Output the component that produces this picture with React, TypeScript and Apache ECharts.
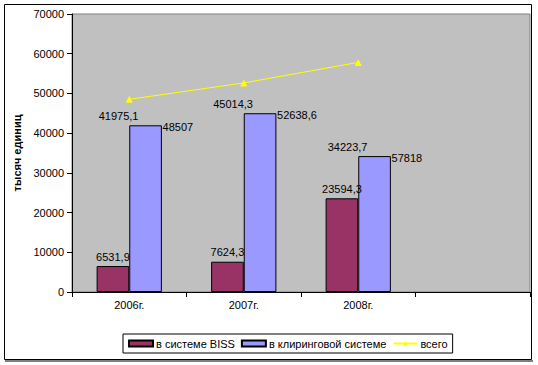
import React, { useEffect, useRef } from "react";
import * as echarts from "echarts";

const categories = ["2006г.", "2007г.", "2008г.", ""];
const bissValues = [6531.9, 7624.3, 23594.3, null];
const clearingValues = [41975.1, 45014.3, 34223.7, null];
const totalValues = [48507, 52638.6, 57818, null];
const seriesNames = ["в системе BISS", "в клиринговой системе", "всего"];
const yAxisName = "тысяч единиц";

const fmt = (v: any) => String(v).replace(".", ",");
const FONT = "'Liberation Sans', Arial, sans-serif";

export default function App() {
  const ref = useRef<HTMLDivElement>(null);
  useEffect(() => {
    document.body.style.margin = "0";
    const chart = echarts.init(ref.current!, null, { renderer: "svg" });
    chart.setOption({
      animation: false,
      textStyle: { fontFamily: FONT },
      graphic: [
        {
          type: "rect",
          shape: { x: 4.5, y: 4.5, width: 527, height: 355 },
          style: { fill: "none", stroke: "#000", lineWidth: 1 },
          z: 0,
        },
        {
          type: "line",
          shape: { x1: 5, y1: 361, x2: 533, y2: 361 },
          style: { stroke: "#000", lineWidth: 1 },
        },
      ],
      grid: {
        left: 72,
        top: 14,
        right: 8,
        bottom: 73,
        show: true,
        backgroundColor: "#C0C0C0",
        borderColor: "#808080",
        borderWidth: 1,
      },
      legend: {
        left: 123,
        top: 334,
        orient: "horizontal",
        borderColor: "#000",
        borderWidth: 1,
        padding: [4, 5, 4, 5],
        itemGap: 6,
        itemWidth: 24,
        itemHeight: 6,
        textStyle: { fontFamily: FONT, fontSize: 11, color: "#000", padding: [0, 0, 0, -2] },
        data: [
          { name: seriesNames[0], icon: "rect" },
          { name: seriesNames[1], icon: "rect" },
          { name: seriesNames[2] },
        ],
      },
      xAxis: {
        type: "category",
        data: categories,
        boundaryGap: true,
        axisLine: { lineStyle: { color: "#000", width: 1 } },
        axisTick: { show: true, length: 5, alignWithLabel: false, lineStyle: { color: "#000" } },
        axisLabel: { color: "#000", fontSize: 11, fontFamily: FONT, margin: 7 },
        splitLine: { show: false },
      },
      yAxis: {
        type: "value",
        min: 0,
        max: 70000,
        interval: 10000,
        name: yAxisName,
        nameLocation: "middle",
        nameGap: 48,
        nameTextStyle: { fontWeight: "bold", fontSize: 11, color: "#000", fontFamily: FONT },
        axisLine: { show: true, lineStyle: { color: "#000", width: 1 } },
        axisTick: { show: true, length: 5, lineStyle: { color: "#000" } },
        axisLabel: {
          color: "#000",
          fontSize: 11,
          fontFamily: FONT,
          margin: 8,
          formatter: (v: number) => String(v),
        },
        splitLine: { show: false },
      },
      series: [
        {
          name: seriesNames[0],
          type: "bar",
          data: bissValues,
          barGap: "0%",
          barCategoryGap: "43%",
          itemStyle: { color: "#993366", borderColor: "#000", borderWidth: 1 },
          label: {
            show: true,
            position: "top",
            distance: 4,
            color: "#000",
            fontSize: 11,
            fontFamily: FONT,
            formatter: (p: any) => fmt(p.value),
          },
        },
        {
          name: seriesNames[1],
          type: "bar",
          data: clearingValues,
          barGap: "0%",
          barCategoryGap: "43%",
          itemStyle: { color: "#9999FF", borderColor: "#000", borderWidth: 1 },
          label: {
            show: true,
            position: "top",
            distance: 4,
            offset: [-27, 0],
            color: "#000",
            fontSize: 11,
            fontFamily: FONT,
            formatter: (p: any) => fmt(p.value),
          },
          markPoint: {
            symbol: "circle",
            symbolSize: 0,
            itemStyle: { color: "transparent" },
            label: {
              show: true,
              position: "right",
              distance: 0,
              offset: [17, 2],
              color: "#000",
              fontSize: 11,
              fontFamily: FONT,
              formatter: (p: any) => fmt(p.value),
            },
            data: totalValues
              .map((t, i) => (t == null ? null : { coord: [i, clearingValues[i]], value: t }))
              .filter((d) => d != null),
          },
        },
        {
          name: seriesNames[2],
          type: "line",
          data: totalValues,
          symbol: "triangle",
          symbolSize: 7,
          itemStyle: { color: "#FFFF00" },
          lineStyle: { color: "#FFFF00", width: 1 },
          label: { show: false },
        },
      ],
    });
    return () => chart.dispose();
  }, []);
  return <div ref={ref} style={{ width: 538, height: 365 }} />;
}
